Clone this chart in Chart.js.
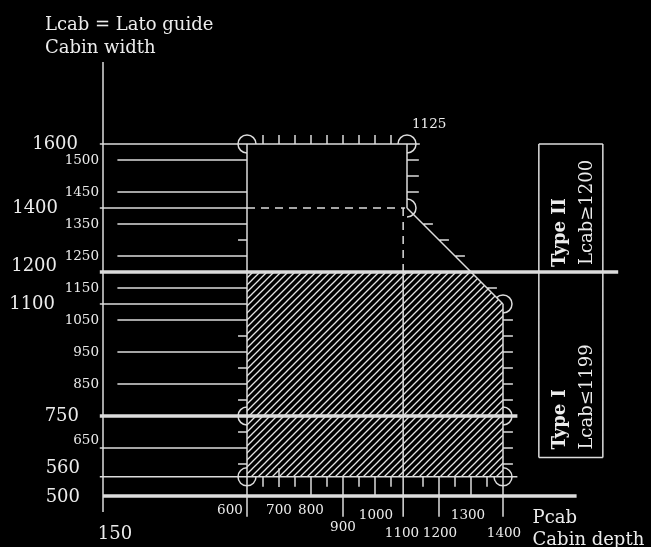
<!DOCTYPE html>
<html>
<head>
<meta charset="utf-8">
<script src="https://cdn.jsdelivr.net/npm/chart.js@4"></script>
<style>
  html, body { margin: 0; padding: 0; background: #000; }
  canvas { display: block; }
</style>
</head>
<body>
<canvas id="cabinChart" width="651" height="547"></canvas>
<script>
// Lcab = cabin width (vertical), Pcab = cabin depth (horizontal)
const widthMajor = [1600, 1400, 1200, 1100, 750, 560, 500];
const widthMajorLabels = ['1600', '1400', '1200', '1100', '750', '560', '500'];
const widthMinor = [1550, 1450, 1350, 1250, 1150, 1050, 950, 850, 650];
const widthMinorLabels = ['1500', '1450', '1350', '1250', '1150', '1050', '950', '850', '650'];
const depthTicks = [600, 700, 800, 900, 1000, 1100, 1200, 1300, 1400];
const depthLabels = ['600', '700', '800', '900', '1000', '1100', '1200', '1300', '1400'];
const axisOrigin = 150;

// Type II outline (upper box) and Type I hatched zone
const boxLeft = 600, boxRight = 1100, boxTop = 1600, boxStep = 1400;
const dashedDepth = 1088;
const typeIZone = [[600, 1200], [1300, 1200], [1400, 1100], [1400, 560], [600, 560], [600, 1200]];
const cornerMarks = [[600, 1600], [1100, 1600], [1100, 1400], [1400, 1100], [600, 750], [1400, 750], [600, 560], [1400, 560]];
const typeBox = [1512, 1712, 620, 1600];

const topTicks = [650, 700, 750, 800, 850, 900, 950, 1000, 1050];
const stepTicks = [1550, 1500, 1450];
const slopeTicks = [1350, 1300, 1250, 1150];
const rightTicks = [1050, 1000, 950, 900, 850, 800, 700, 650, 600];
const leftTicks = [1300, 1000, 900, 800, 700, 600];
const bottomShort = [650, 750, 850, 950, 1050, 1150, 1250, 1350];
const bottomMid = [800, 1000, 1300];
const bottomLong = [900, 1200];

const lineColor = '#dcdcdc';
const textColor = '#ececec';
const serif = '"DejaVu Serif", "Liberation Serif", serif';

// x offsets / y offsets of labels (px)
const majorShift = { 1600: [-25, 0], 1400: [-45, 0], 1200: [-46, -6], 1100: [-48, 0], 750: [-24, 0], 560: [-23, -8], 500: [-23, 1] };
const depthShift = { 600: [-17, 14], 700: [0, 14], 800: [0, 14], 900: [0, 31], 1000: [1, 19], 1100: [-5, 37], 1200: [1, 37], 1300: [-3, 19], 1400: [1, 37] };

const thin = [
    [axisOrigin, 450, axisOrigin, 1856],
    [140, 1600, 1140, 1600],
    [140, 1400, 600, 1400],
    [140, 1100, 600, 1100],
    [140, 650, 600, 650],
    [140, 560, 1445, 560],
    [boxLeft, boxTop, boxLeft, 435],
    [boxRight, boxTop, boxRight, boxStep],
    [dashedDepth, 1200, dashedDepth, 435],
    [boxRight, boxStep, 1400, 1100],
    [1400, 1100, 1400, 435],
    [typeBox[0], typeBox[3], typeBox[1], typeBox[3]],
    [typeBox[1], typeBox[3], typeBox[1], typeBox[2]],
    [typeBox[1], typeBox[2], typeBox[0], typeBox[2]],
    [typeBox[0], typeBox[2], typeBox[0], typeBox[3]],
    [700, 587, 700, 528]
];
widthMinor.filter(v => v !== 650).forEach(v => thin.push([195, v, 600, v]));
topTicks.forEach(x => thin.push([x, 1600, x, 1628]));
stepTicks.forEach(y => thin.push([boxRight, y, boxRight + 37, y]));
slopeTicks.forEach(y => thin.push([boxRight + (boxStep - y), y, boxRight + (boxStep - y) + 31, y]));
rightTicks.forEach(y => thin.push([1400, y, 1431, y]));
leftTicks.forEach(y => thin.push([572, y, 600, y]));
bottomShort.forEach(x => thin.push([x, 560, x, 529]));
bottomMid.forEach(x => thin.push([x, 560, x, 500]));
bottomLong.forEach(x => thin.push([x, 560, x, 435]));

const dashed = [
    [boxLeft, 1400, 1094, 1400],
    [dashedDepth, 1400, dashedDepth, 1200]
];
const thick = [
    [140, 1200, 1760, 1200],
    [140, 750, 1445, 750],
    [axisOrigin, 500, 1630, 500]
];

function toPoints(list) {
    const pts = [];
    list.forEach(([x1, y1, x2, y2]) => {
        pts.push({ x: x1, y: y1 }, { x: x2, y: y2 }, { x: x2, y: null });
    });
    return pts;
}

function segDataset(list, width, dash) {
    return {
        data: toPoints(list),
        showLine: true,
        spanGaps: false,
        borderColor: lineColor,
        borderWidth: width,
        borderDash: dash || [],
        borderCapStyle: 'butt',
        pointRadius: 0,
        clip: false,
        order: 0
    };
}

function hatchPattern() {
    const s = 7;
    const c = document.createElement('canvas');
    c.width = s; c.height = s;
    const g = c.getContext('2d');
    g.fillStyle = '#000';
    g.fillRect(0, 0, s, s);
    g.strokeStyle = '#e4e4e4';
    g.lineWidth = 1.3;
    g.beginPath();
    g.moveTo(0, s); g.lineTo(s, 0);
    g.moveTo(-1, 1); g.lineTo(1, -1);
    g.moveTo(s - 1, s + 1); g.lineTo(s + 1, s - 1);
    g.stroke();
    return g.createPattern(c, 'repeat');
}

// ring marker drawn from angle a0 to a1 (canvas angles, y down)
function ringMark(a0, a1) {
    const c = document.createElement('canvas');
    c.width = 22; c.height = 22;
    const g = c.getContext('2d');
    g.strokeStyle = lineColor;
    g.lineWidth = 1.5;
    g.beginPath();
    g.arc(11, 11, 9, a0, a1);
    g.stroke();
    return c;
}

const PI = Math.PI;
const markStyles = {
    '600,1600': ringMark(PI / 2, 2 * PI),
    '1100,1600': ringMark(PI, PI / 2 + 2 * PI),
    '1100,1400': ringMark(-PI / 2, PI / 2)
};

const datasets = [
    segDataset(thin, 1.5),
    segDataset(dashed, 1.5, [8, 6]),
    segDataset(thick, 3.5),
    {
        data: typeIZone.map(([x, y]) => ({ x, y })),
        showLine: true,
        borderWidth: 0,
        pointRadius: 0,
        fill: 'shape',
        backgroundColor: hatchPattern(),
        clip: false,
        order: 1
    },
    {
        data: cornerMarks.map(([x, y]) => ({ x, y })),
        showLine: false,
        pointRadius: 9,
        pointBorderWidth: 1.5,
        pointBorderColor: lineColor,
        pointBackgroundColor: 'rgba(0,0,0,0)',
        pointStyle: cornerMarks.map(p => markStyles[p.join(',')] || 'circle'),
        clip: false,
        order: 2
    }
];

const labelPlugin = {
    id: 'drawingLabels',
    afterDatasetsDraw(chart) {
        const { ctx, scales: { x, y } } = chart;
        const ax = x.getPixelForValue(axisOrigin);
        ctx.save();
        ctx.fillStyle = textColor;

        ctx.font = '18px ' + serif;
        ctx.textAlign = 'right';
        ctx.textBaseline = 'middle';
        widthMajor.forEach((v, i) => {
            const s = majorShift[v];
            ctx.fillText(widthMajorLabels[i], ax + s[0], y.getPixelForValue(v) + s[1]);
        });

        ctx.font = '13.5px ' + serif;
        widthMinor.forEach((v, i) => {
            ctx.fillText(widthMinorLabels[i], ax - 4, y.getPixelForValue(v) + (v === 650 ? -8 : 0));
        });

        ctx.textAlign = 'center';
        const base = y.getPixelForValue(500);
        depthTicks.forEach((v, i) => {
            const s = depthShift[v];
            ctx.fillText(depthLabels[i], x.getPixelForValue(v) + s[0], base + s[1]);
        });

        ctx.textAlign = 'left';
        ctx.textBaseline = 'alphabetic';
        ctx.fillText('1125', x.getPixelForValue(boxRight) + 5, y.getPixelForValue(boxTop) - 16);

        ctx.font = '18px ' + serif;
        ctx.fillText('Lcab = Lato guide', ax - 58, 30);
        ctx.fillText('Cabin width', ax - 58, 53);
        ctx.fillText('Pcab', x.getPixelForValue(1630) - 44, base + 27);
        ctx.fillText('Cabin depth', x.getPixelForValue(1630) - 44, base + 49);
        ctx.textAlign = 'center';
        ctx.textBaseline = 'middle';
        ctx.fillText(String(axisOrigin), ax + 12, base + 38);

        const bx = x.getPixelForValue(typeBox[0]);
        const rotated = [
            ['bold 18px ', 'Type II', 26, y.getPixelForValue(1200) - 5],
            ['18px ', 'Lcab\u22651200', 53, y.getPixelForValue(1200) - 7],
            ['bold 18px ', 'Type I', 26, y.getPixelForValue(typeBox[2]) - 8],
            ['18px ', 'Lcab\u22641199', 53, y.getPixelForValue(typeBox[2]) - 8]
        ];
        rotated.forEach(([f, t, dx, py]) => {
            ctx.save();
            ctx.font = f + serif;
            ctx.textAlign = 'left';
            ctx.textBaseline = 'alphabetic';
            ctx.translate(bx + dx, py);
            ctx.rotate(-PI / 2);
            ctx.fillText(t, 0, 0);
            ctx.restore();
        });
        ctx.restore();
    }
};

new Chart(document.getElementById('cabinChart').getContext('2d'), {
    type: 'scatter',
    data: { datasets },
    options: {
        responsive: false,
        animation: false,
        events: [],
        layout: { padding: { left: 55, right: 20, top: 48, bottom: 19 } },
        scales: {
            x: { type: 'linear', min: 0, max: 1800, display: false },
            y: { type: 'linear', min: 400, max: 1900, display: false }
        },
        plugins: {
            legend: { display: false },
            tooltip: { enabled: false }
        }
    },
    plugins: [labelPlugin]
});
</script>
</body>
</html>
